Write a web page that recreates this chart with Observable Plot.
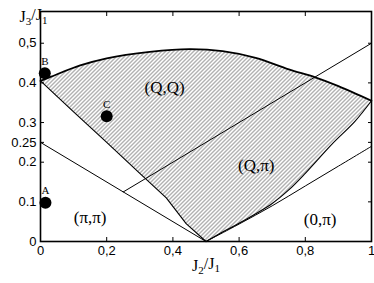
<!DOCTYPE html>
<html>
<head>
<meta charset="utf-8">
<script src="https://cdn.jsdelivr.net/npm/d3@7"></script>
<script src="https://cdn.jsdelivr.net/npm/@observablehq/plot@0.6"></script>
<style>
  html, body { margin: 0; padding: 0; background: #fff; }
</style>
</head>
<body>
<div id="chart"></div>
<script>
// Tick values and labels
const xTicks = [0, 0.2, 0.4, 0.6, 0.8, 1];
const xTickLabels = ["0", "0,2", "0,4", "0,6", "0,8", "1"];
const yTicks = [0, 0.1, 0.2, 0.25, 0.3, 0.4, 0.5];
const yTickLabels = ["0", "0.1", "0.2", "0.25", "0.3", "0.4", "0,5"];

// Upper (Q,Q) boundary (thick curve)
const upperX = [0, 0.03, 0.12, 0.2, 0.33, 0.45, 0.55, 0.65, 0.75, 0.83, 0.9, 1];
const upperY = [0.405, 0.415, 0.444, 0.462, 0.478, 0.485, 0.48, 0.463, 0.434, 0.414, 0.392, 0.355];

// Lower-left boundary of hatched region
const leftX = [0, 0.1, 0.2, 0.3, 0.38, 0.44, 0.5];
const leftY = [0.405, 0.327, 0.25, 0.172, 0.11, 0.045, 0];

// Right boundary of hatched region
const rightX = [0.5, 0.55, 0.6, 0.7, 0.75, 0.8, 0.88, 0.95, 1];
const rightY = [0, 0.024, 0.046, 0.096, 0.13, 0.172, 0.245, 0.303, 0.355];

// (0,pi) boundary
const zeroPiX = [0.5, 0.6, 0.7, 0.8, 0.9, 1];
const zeroPiY = [0, 0.044, 0.09, 0.14, 0.19, 0.24];

// Straight lines
const pipiX = [0, 0.5];
const pipiY = [0.25, 0];
const diagX = [0.25, 1];
const diagY = [0.125, 0.5];

// Points
const ptNames = ["A", "B", "C"];
const ptX = [0.015, 0.013, 0.2];
const ptY = [0.098, 0.424, 0.316];

// Region labels
const regNames = ["(Q,Q)", "(Q,\u03c0)", "(\u03c0,\u03c0)", "(0,\u03c0)"];
const regX = [0.375, 0.652, 0.15, 0.845];
const regY = [0.389, 0.192, 0.061, 0.056];

const zip = (xs, ys) => xs.map((x, i) => ({x, y: ys[i]}));
const upper = zip(upperX, upperY);
const left = zip(leftX, leftY);
const right = zip(rightX, rightY);
const polygon = [...upper, ...right.slice().reverse(), ...left.slice().reverse()];
const points = ptNames.map((n, i) => ({n, x: ptX[i], y: ptY[i]}));
const regions = regNames.map((n, i) => ({n, x: regX[i], y: regY[i]}));

const serif = "'Liberation Serif', 'Times New Roman', serif";
const sans = "'Liberation Sans', Arial, sans-serif";

const chart = Plot.plot({
  width: 374,
  height: 283,
  marginLeft: 40,
  marginRight: 3,
  marginTop: 11,
  marginBottom: 42,
  style: {fontFamily: sans, fontSize: "13px", background: "#fff", color: "#000"},
  x: {domain: [0, 1]},
  y: {domain: [0, 0.58]},
  marks: [
    Plot.line(polygon, {x: "x", y: "y", fill: "url(#hatch)", stroke: "none"}),
    Plot.line(left, {x: "x", y: "y", stroke: "#000", strokeWidth: 1.1}),
    Plot.line(right, {x: "x", y: "y", stroke: "#000", strokeWidth: 1.1, curve: "catmull-rom"}),
    Plot.line(zip(zeroPiX, zeroPiY), {x: "x", y: "y", stroke: "#000", strokeWidth: 1, curve: "catmull-rom"}),
    Plot.line(zip(pipiX, pipiY), {x: "x", y: "y", stroke: "#000", strokeWidth: 1}),
    Plot.line(zip(diagX, diagY), {x: "x", y: "y", stroke: "#000", strokeWidth: 1}),
    Plot.line(upper, {x: "x", y: "y", stroke: "#000", strokeWidth: 1.8, curve: "catmull-rom"}),
    Plot.dot(points, {x: "x", y: "y", r: 6, fill: "#000", stroke: "none"}),
    Plot.text(points, {x: "x", y: "y", text: "n", dy: -12, fontFamily: serif, fontSize: 11}),
    Plot.text(regions, {x: "x", y: "y", text: "n", fontFamily: serif, fontSize: 17}),
    Plot.axisX(xTicks, {anchor: "bottom", tickSize: 4, dy: -4, tickFormat: () => "", label: null}),
    Plot.axisX(xTicks, {anchor: "top", tickSize: 4, dy: 4, tickFormat: () => "", label: null}),
    Plot.axisX(xTicks, {anchor: "bottom", tickSize: 0, tickPadding: 4, tickFormat: (d, i) => xTickLabels[i], label: null}),
    Plot.axisY(yTicks, {anchor: "left", tickSize: 4, dx: 4, tickFormat: () => "", label: null}),
    Plot.axisY(yTicks, {anchor: "right", tickSize: 4, dx: -4, tickFormat: () => "", label: null}),
    Plot.axisY(yTicks, {anchor: "left", tickSize: 0, tickPadding: 4, tickFormat: (d, i) => yTickLabels[i], label: null}),
    Plot.frame({stroke: "#000", strokeWidth: 1.6}),
    Plot.text(["J2/J1"], {frameAnchor: "bottom", dy: 29, text: d => d, fontFamily: serif, fontSize: 16, className: "xlab"}),
    Plot.text(["J3/J1"], {frameAnchor: "top-left", dx: -21, dy: -1, text: d => d, fontFamily: serif, fontSize: 16, className: "ylab"})
  ]
});

// hatch pattern
const svg = d3.select(chart);
const defs = svg.insert("defs", ":first-child");
const pat = defs.append("pattern")
  .attr("id", "hatch")
  .attr("patternUnits", "userSpaceOnUse")
  .attr("width", 4).attr("height", 4);
pat.append("path")
  .attr("d", "M-1,1 l2,-2 M0,4 l4,-4 M3,5 l2,-2")
  .attr("stroke", "#555").attr("stroke-width", 0.9);

// subscripts for axis labels
function subscript(cls, a, b) {
  svg.selectAll("g." + cls + " text").each(function() {
    const t = d3.select(this);
    t.text(null);
    t.append("tspan").text("J");
    t.append("tspan").attr("dy", "0.3em").attr("font-size", "11px").text(a);
    t.append("tspan").attr("dy", "-0.3em").text("/J");
    t.append("tspan").attr("dy", "0.3em").attr("font-size", "11px").text(b);
  });
}
subscript("xlab", "2", "1");
subscript("ylab", "3", "1");

document.getElementById("chart").appendChild(chart);
</script>
</body>
</html>
